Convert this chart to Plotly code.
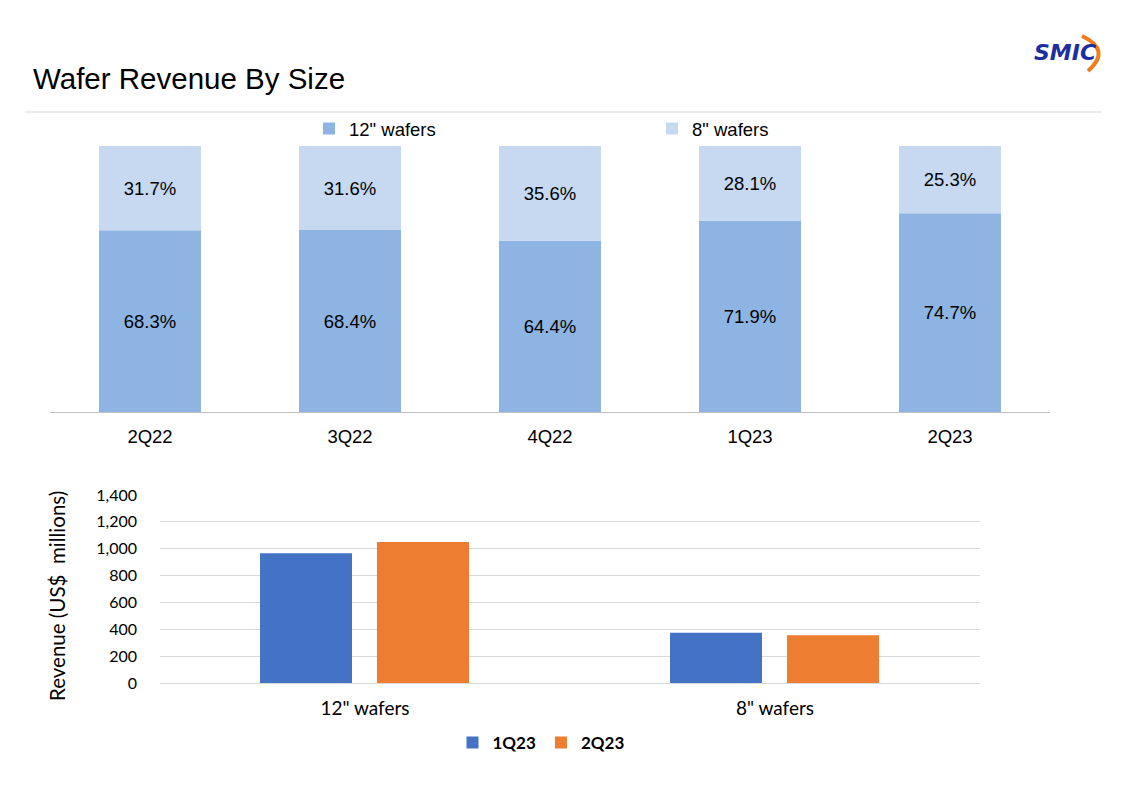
import plotly.graph_objects as go

# ---- data ----
quarters = ["2Q22", "3Q22", "4Q22", "1Q23", "2Q23"]
share_12in = [68.3, 68.4, 64.4, 71.9, 74.7]
share_8in = [31.7, 31.6, 35.6, 28.1, 25.3]

wafer_sizes = ['12" wafers', '8" wafers']
rev_1q23 = [966, 375]
rev_2q23 = [1050, 355]

W, H = 1126, 786
def px(x):
    return x / W
def py(y):
    return 1 - y / H

ARIAL = "Liberation Sans, Arial, sans-serif"
CAL = "Lato, Carlito, Calibri, sans-serif"

fig = go.Figure()

# ---- top stacked percentage bars ----
fig.add_trace(go.Bar(
    x=quarters, y=share_12in, name='12" wafers',
    marker=dict(color="#8EB4E3", line=dict(width=0)),
    text=[f"{v:.1f}%" for v in share_12in], textposition="inside",
    insidetextanchor="middle", textangle=0, constraintext="none",
    textfont=dict(family=ARIAL, size=18.5, color="#000000"),
    xaxis="x", yaxis="y", legend="legend", hoverinfo="skip",
))
fig.add_trace(go.Bar(
    x=quarters, y=share_8in, name='8" wafers',
    marker=dict(color="#C6D9F1", line=dict(width=0)),
    text=[f"{v:.1f}%" for v in share_8in], textposition="inside",
    insidetextanchor="middle", textangle=0, constraintext="none",
    textfont=dict(family=ARIAL, size=18.5, color="#000000"),
    xaxis="x", yaxis="y", legend="legend", hoverinfo="skip",
))

# ---- bottom grouped revenue bars ----
fig.add_trace(go.Bar(
    x=wafer_sizes, y=rev_1q23, name="1Q23",
    marker=dict(color="#4472C4", line=dict(width=0)),
    width=0.2244, offset=-0.2561,
    xaxis="x2", yaxis="y2", legend="legend2", offsetgroup="a",
))
fig.add_trace(go.Bar(
    x=wafer_sizes, y=rev_2q23, name="2Q23",
    marker=dict(color="#ED7D31", line=dict(width=0)),
    width=0.2244, offset=0.0293,
    xaxis="x2", yaxis="y2", legend="legend2", offsetgroup="b",
))

fig.update_layout(
    width=W, height=H,
    margin=dict(l=0, r=0, t=0, b=0, autoexpand=False),
    paper_bgcolor="white", plot_bgcolor="white",
    barmode="relative",
    bargap=0.49,
    font=dict(family=ARIAL, color="#000000"),
    xaxis=dict(
        domain=[px(50), px(1050)], anchor="y",
        showline=True, linecolor="#BFBFBF", linewidth=1.3,
        showgrid=False, ticks="", ticklabelstandoff=8,
        tickfont=dict(family=ARIAL, size=18.5, color="#000000"),
    ),
    yaxis=dict(
        domain=[py(412), py(146)], anchor="x", range=[0, 100],
        visible=False, showgrid=False, zeroline=False,
    ),
    xaxis2=dict(
        domain=[px(160), px(980)], anchor="y2",
        showline=False, showgrid=False, ticks="", ticklabelstandoff=12,
        tickfont=dict(family=CAL, size=19, color="#000000"),
    ),
    yaxis2=dict(
        domain=[py(683), py(495)], anchor="x2", range=[0, 1400],
        dtick=200, tickformat=",", showgrid=True, gridcolor="#D9D9D9",
        gridwidth=1.3, zeroline=True, zerolinecolor="#D9D9D9", zerolinewidth=1.3,
        showline=False, ticks="", ticklabelstandoff=22,
        tickfont=dict(family=CAL, size=16, color="#000000"),
    ),
    legend=dict(
        orientation="h", x=px(309), y=py(129), xanchor="left", yanchor="middle",
        entrywidth=298, entrywidthmode="pixels", itemwidth=30,
        font=dict(family=ARIAL, size=18.5, color="#000000"),
        bgcolor="rgba(0,0,0,0)", traceorder="normal",
    ),
    legend2=dict(
        orientation="h", x=px(541), y=py(743), xanchor="center", yanchor="middle",
        itemwidth=30,
        font=dict(family=CAL, size=17, color="#000000", weight="bold"),
        bgcolor="rgba(0,0,0,0)", traceorder="normal",
    ),
    showlegend=True,
)

# Title
fig.add_annotation(
    text="Wafer Revenue By Size", x=px(31), y=py(78), xref="paper", yref="paper",
    xanchor="left", yanchor="middle", showarrow=False,
    font=dict(family=ARIAL, size=29.5, color="#000000"),
)
# separator line
fig.add_shape(type="line", xref="paper", yref="paper",
              x0=px(25), x1=px(1102), y0=py(112), y1=py(112),
              line=dict(color="#D9D9D9", width=1))

# y-axis title bottom chart
fig.add_annotation(
    text="Revenue (US$  millions)", x=px(57), y=py(596), xref="paper", yref="paper",
    xanchor="center", yanchor="middle", textangle=-90, showarrow=False,
    font=dict(family=CAL, size=20.5, color="#000000"),
)

# Logo
fig.add_shape(type="path", xref="paper", yref="paper",
              path=(f"M {px(1082)} {py(36)} Q {px(1112)} {py(50)} {px(1088)} {py(71)}"),
              line=dict(color="#F07C1A", width=4))
fig.add_annotation(
    text="<b><i>SMIC</i></b>", x=px(1065), y=py(52), xref="paper", yref="paper",
    xanchor="center", yanchor="middle", showarrow=False,
    font=dict(family="DejaVu Sans, sans-serif", size=22, color="#1B2F9E"),
)

fig.write_html("out.html")
